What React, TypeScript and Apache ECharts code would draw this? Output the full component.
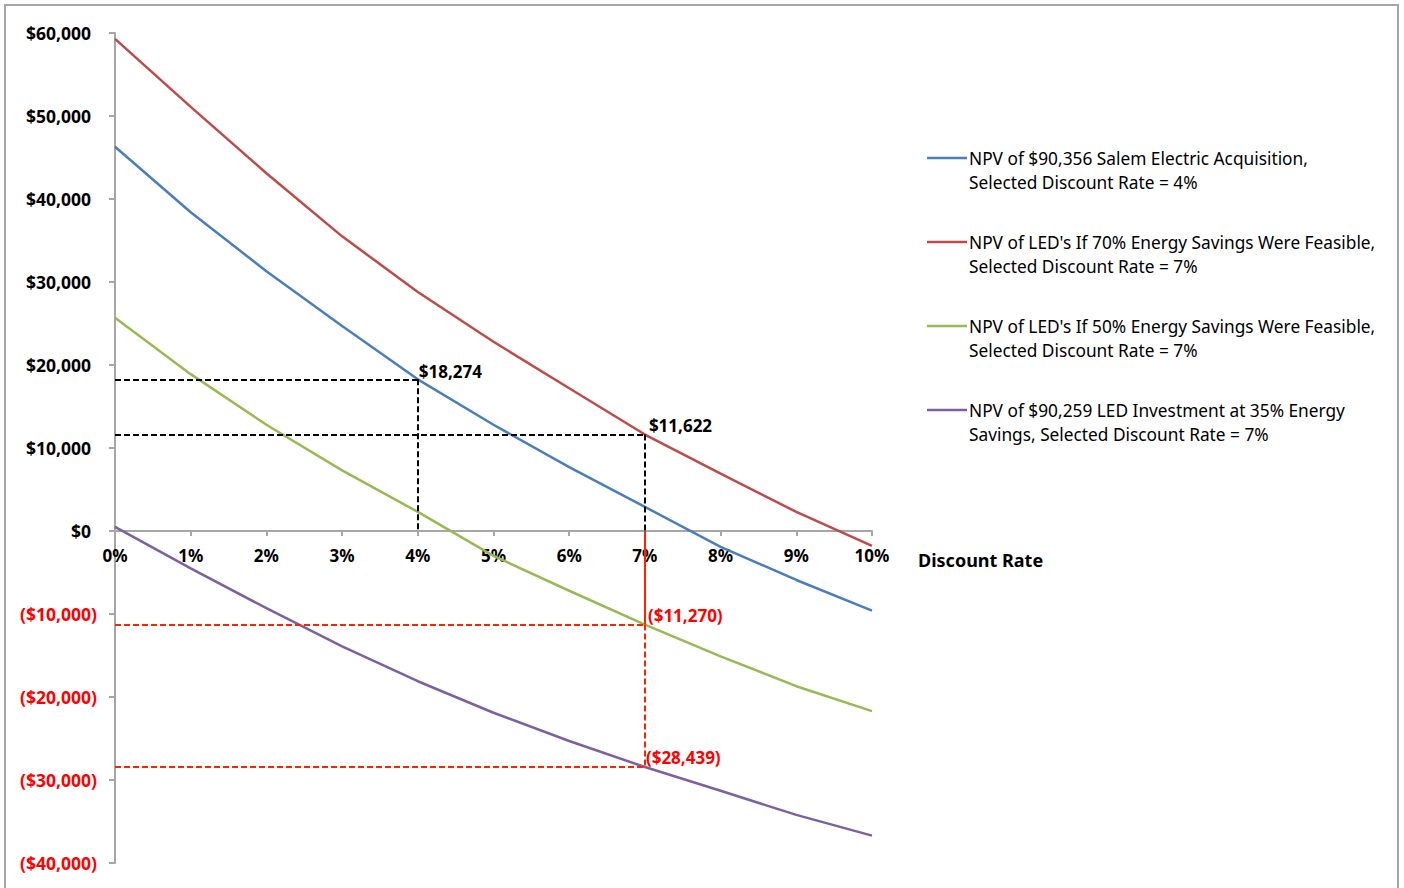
import React, { useEffect, useRef } from "react";
import * as echarts from "echarts";

const rates = [0, 1, 2, 3, 4, 5, 6, 7, 8, 9, 10];
const salemAcq = [46300, 38400, 31300, 24700, 18274, 12800, 7700, 2900, -1900, -5900, -9600];
const led70 = [59300, 51100, 43100, 35500, 28800, 22800, 17200, 11622, 6900, 2300, -1800];
const led50 = [25700, 18900, 12800, 7300, 2300, -3000, -7200, -11270, -15100, -18700, -21700];
const led35 = [500, -4500, -9300, -13900, -18100, -21900, -25300, -28439, -31300, -34200, -36700];

const seriesNames = [
  "NPV of $90,356 Salem Electric Acquisition,\nSelected Discount Rate = 4%",
  "NPV of LED's If 70% Energy Savings Were Feasible,\nSelected Discount Rate = 7%",
  "NPV of LED's If 50% Energy Savings Were Feasible,\nSelected Discount Rate = 7%",
  "NPV of $90,259 LED Investment at 35% Energy\nSavings, Selected Discount Rate = 7%",
];
const seriesColors = ["#4a7ebb", "#be4b48", "#98b954", "#7d60a0"];
const seriesValues = [salemAcq, led70, led50, led35];

const FONT = "'Noto Sans', 'Open Sans', sans-serif";
const W = 1404;
const H = 888;
const GRID_TOP = 33;
const GRID_BOTTOM = 25;
const Y_MIN = -40000;
const Y_MAX = 60000;

function fmtMoney(v: number) {
  const s = "$" + Math.abs(v).toLocaleString("en-US");
  return v < 0 ? "(" + s + ")" : s;
}

export default function App() {
  const ref = useRef<HTMLDivElement>(null);
  useEffect(() => {
    if (!ref.current) return;
    const chart = echarts.init(ref.current, null, { renderer: "svg", width: W, height: H });

    const gridH = H - GRID_TOP - GRID_BOTTOM;
    const zeroFromBottom = (gridH * (0 - Y_MIN)) / (Y_MAX - Y_MIN);

    const lblStyle = (color: string, dx = 3, dy = -9) => ({
      show: true,
      position: [dx, dy] as any,
      align: "left",
      verticalAlign: "middle",
      color,
      fontFamily: FONT,
      fontWeight: "bold",
      fontSize: 17,
      formatter: (p: any) => fmtMoney(p.value),
    });

    const series: any[] = seriesValues.map((vals, i) => ({
      name: seriesNames[i],
      type: "line",
      data: rates.map((r, j) => [r, vals[j]]),
      showSymbol: false,
      symbol: "none",
      lineStyle: { color: seriesColors[i], width: 2.5 },
      itemStyle: { color: seriesColors[i] },
      z: 3,
    }));

    const blackDash = { color: "#000", width: 2, type: [6, 3] as any };
    const redDash = { color: "#ff2200", width: 2, type: [6, 3] as any };

    series[0].markLine = {
      silent: true,
      symbol: "none",
      label: { show: false },
      data: [
        [{ coord: [0, salemAcq[4]], lineStyle: blackDash }, { coord: [4, salemAcq[4]] }],
        [{ coord: [4, salemAcq[4]], lineStyle: blackDash }, { coord: [4, 0] }],
      ],
    };
    series[0].markPoint = {
      symbol: "circle",
      symbolSize: 0,
      data: [{ coord: [4, salemAcq[4]], value: salemAcq[4], label: lblStyle("#000", 1, -8) }],
    };
    series[1].markLine = {
      silent: true,
      symbol: "none",
      label: { show: false },
      data: [
        [{ coord: [0, led70[7]], lineStyle: blackDash }, { coord: [7, led70[7]] }],
        [{ coord: [7, led70[7]], lineStyle: blackDash }, { coord: [7, 0] }],
      ],
    };
    series[1].markPoint = {
      symbol: "circle",
      symbolSize: 0,
      data: [{ coord: [7, led70[7]], value: led70[7], label: lblStyle("#000", 4, -9) }],
    };
    series[2].markLine = {
      silent: true,
      symbol: "none",
      label: { show: false },
      data: [
        [{ coord: [0, led50[7]], lineStyle: redDash }, { coord: [7, led50[7]] }],
        [{ coord: [7, 0], lineStyle: { color: "#ff2200", width: 2, type: "solid" } }, { coord: [7, led50[7]] }],
      ],
    };
    series[2].markPoint = {
      symbol: "circle",
      symbolSize: 0,
      data: [{ coord: [7, led50[7]], value: led50[7], label: lblStyle("#ff0000", 3, -9) }],
    };
    series[3].markLine = {
      silent: true,
      symbol: "none",
      label: { show: false },
      data: [
        [{ coord: [0, led35[7]], lineStyle: redDash }, { coord: [7, led35[7]] }],
        [{ coord: [7, led50[7]], lineStyle: redDash }, { coord: [7, led35[7]] }],
      ],
    };
    series[3].markPoint = {
      symbol: "circle",
      symbolSize: 0,
      data: [{ coord: [7, led35[7]], value: led35[7], label: lblStyle("#ff0000", 1, -10) }],
    };

    const legendGraphics: any[] = [];
    seriesNames.forEach((name, i) => {
      const y = 158 + i * 84;
      legendGraphics.push({
        type: "line",
        shape: { x1: 927, y1: y, x2: 967, y2: y },
        style: { stroke: seriesColors[i], lineWidth: 2.5 },
      });
      legendGraphics.push({
        type: "text",
        x: 969,
        y: y - 12,
        style: {
          text: name,
          fill: "#000",
          font: `17.3px ${FONT}`,
          lineHeight: 24,
          textVerticalAlign: "top",
        },
      });
    });

    chart.setOption({
      animation: false,
      backgroundColor: "#fff",
      grid: { left: 115, right: 532, top: GRID_TOP, bottom: GRID_BOTTOM, containLabel: false },
      xAxis: {
        type: "value",
        min: 0,
        max: 10,
        interval: 1,
        offset: -zeroFromBottom,
        axisLine: { onZero: false, lineStyle: { color: "#a6a6a6", width: 2 } },
        axisTick: { show: true, length: 5, lineStyle: { color: "#a6a6a6", width: 2 } },
        splitLine: { show: false },
        axisLabel: {
          margin: 16,
          formatter: (v: number) => v + "%",
          color: "#000",
          fontFamily: FONT,
          fontWeight: "bold",
          fontSize: 17,
        },
      },
      yAxis: {
        type: "value",
        min: Y_MIN,
        max: Y_MAX,
        interval: 10000,
        axisLine: { show: true, onZero: false, lineStyle: { color: "#a6a6a6", width: 2 } },
        axisTick: { show: true, length: 6, lineStyle: { color: "#a6a6a6", width: 2 } },
        splitLine: { show: false },
        axisLabel: {
          margin: 18,
          formatter: (v: number) => (v < 0 ? fmtMoney(v) : fmtMoney(v) + "{h|)}"),
          color: (v: any) => (Number(v) < 0 ? "#ff0000" : "#000"),
          fontFamily: FONT,
          fontWeight: "bold",
          fontSize: 17.5,
          rich: {
            h: {
              color: "rgba(0,0,0,0)",
              fontFamily: FONT,
              fontWeight: "bold",
              fontSize: 17.5,
            },
          },
        },
      },
      graphic: [
        {
          type: "rect",
          shape: { x: 5, y: 5, width: 1393, height: 900 },
          style: { fill: "none", stroke: "#a6a6a6", lineWidth: 2 },
          silent: true,
          z: -1,
        },
        {
          type: "text",
          x: 918,
          y: 560,
          style: {
            text: "Discount Rate",
            fill: "#000",
            font: `bold 18px ${FONT}`,
            textVerticalAlign: "middle",
          },
        },
        ...legendGraphics,
      ],
      series,
    });
    return () => chart.dispose();
  }, []);
  return (
    <div
      ref={ref}
      style={{ position: "fixed", left: 0, top: 0, width: W, height: H }}
    />
  );
}
